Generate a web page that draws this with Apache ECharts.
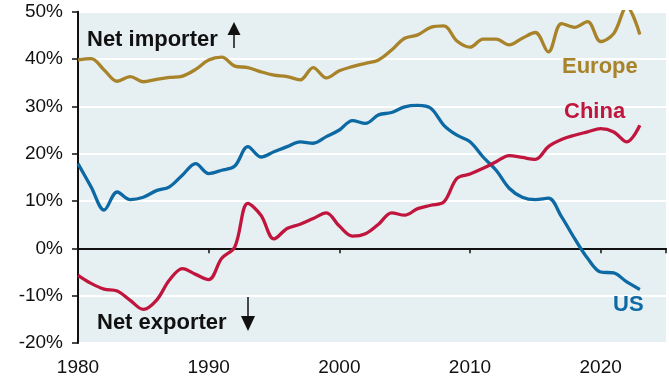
<!DOCTYPE html>
<html>
<head>
<meta charset="utf-8">
<script src="https://cdn.jsdelivr.net/npm/echarts@6/dist/echarts.min.js"></script>
<style>html,body{margin:0;padding:0;background:#fff}#c{width:669px;height:379px}</style>
</head>
<body>
<div id="c"></div>
<script>
const years = [1980,1981,1982,1983,1984,1985,1986,1987,1988,1989,1990,1991,1992,1993,1994,1995,1996,1997,1998,1999,2000,2001,2002,2003,2004,2005,2006,2007,2008,2009,2010,2011,2012,2013,2014,2015,2016,2017,2018,2019,2020,2021,2022,2023];
const europe = [39.8,40.1,37.7,35.3,36.3,35.2,35.7,36.1,36.4,37.8,39.8,40.4,38.5,38.2,37.3,36.6,36.3,35.6,38.2,36.0,37.5,38.4,39.1,39.8,41.9,44.4,45.1,46.7,47.0,43.8,42.5,44.2,44.2,43.0,44.4,45.6,41.5,47.5,46.7,47.9,43.7,45.4,51.0,45.2];
const us = [17.9,13.0,8.1,11.9,10.3,10.8,12.2,13.0,15.5,17.9,15.8,16.5,17.4,21.5,19.3,20.4,21.5,22.5,22.2,23.6,25.0,27.0,26.4,28.2,28.7,29.9,30.2,29.6,26.0,23.9,22.5,19.3,16.5,12.7,10.8,10.3,10.6,6.7,2.1,-2.1,-5.0,-5.2,-7.1,-8.7];
const china = [-5.7,-7.4,-8.6,-9.0,-11.0,-12.9,-11.0,-6.7,-4.3,-5.5,-6.6,-2.1,0.3,9.5,7.0,2.0,4.2,5.1,6.3,7.5,4.7,2.6,3.1,5.1,7.5,7.0,8.4,9.1,9.8,14.8,15.7,16.9,18.3,19.6,19.2,18.8,21.5,23.0,23.9,24.6,25.3,24.6,22.5,26.0];
const yTicks = [-20,-10,0,10,20,30,40,50];
const xTicks = [1980,1990,2000,2010,2020];

const C_EU = '#a8832a', C_CN = '#c0163e', C_US = '#0c69a3';
const FONT = '"Liberation Sans", Arial, sans-serif';
const pair = arr => years.map((y,i)=>[y,arr[i]]);

const chart = echarts.init(document.getElementById('c'));
const lineSeries = (name, arr, color) => ({
  name, type:'line', data: pair(arr), smooth:0.35, showSymbol:false,
  lineStyle:{color, width:3.3}, itemStyle:{color}, clip:true, z:5
});
const txt = (left, top, text, fill) => ({type:'text', left, top, z:100,
  style:{text, font:'bold 22px '+FONT, fill}});
chart.setOption({
  animation:false,
  grid:{left:78, right:0, top:11.7, bottom:36, show:true, backgroundColor:'#e6eff2', borderWidth:0},
  xAxis:[
    {type:'value', min:1980, max:2025, interval:10,
     axisLine:{show:true, onZero:true, lineStyle:{color:'#111', width:2}},
     axisTick:{show:true, length:5, lineStyle:{color:'#111', width:1.5}},
     axisLabel:{show:false}, splitLine:{show:false}},
    {type:'value', min:1980, max:2025, interval:10, position:'bottom',
     axisLine:{show:false, onZero:false}, axisTick:{show:false},
     axisLabel:{show:true, margin:15, color:'#111', fontSize:19, fontFamily:FONT,
       formatter:v=> xTicks.includes(v)? String(v):''},
     splitLine:{show:false}}
  ],
  yAxis:{type:'value', min:-20, max:50, interval:10,
    axisLine:{show:true, lineStyle:{color:'#111', width:2}},
    axisTick:{show:true, length:6, lineStyle:{color:'#111', width:1.5}},
    axisLabel:{margin:15, color:'#111', fontSize:19, fontFamily:FONT,
      formatter:v=> yTicks.includes(v)? v+'%':''},
    splitLine:{show:true, lineStyle:{color:'#ffffff', width:2}}},
  series:[
    lineSeries('Europe', europe, C_EU),
    lineSeries('US', us, C_US),
    lineSeries('China', china, C_CN)
  ],
  graphic:[
    txt(87, 29, 'Net importer', '#111'),
    {type:'line', z:100, shape:{x1:234, y1:48, x2:234, y2:32}, style:{stroke:'#111', lineWidth:1.5}},
    {type:'polygon', z:100, shape:{points:[[234,22],[227.5,35],[240.5,35]]}, style:{fill:'#111'}},
    txt(97, 312, 'Net exporter', '#111'),
    {type:'line', z:100, shape:{x1:248, y1:297, x2:248, y2:318}, style:{stroke:'#111', lineWidth:1.5}},
    {type:'polygon', z:100, shape:{points:[[248,331],[241,316],[255,316]]}, style:{fill:'#111'}},
    txt(562, 56, 'Europe', C_EU),
    txt(564, 101, 'China', C_CN),
    txt(613, 294, 'US', C_US)
  ]
});
</script>
</body>
</html>
